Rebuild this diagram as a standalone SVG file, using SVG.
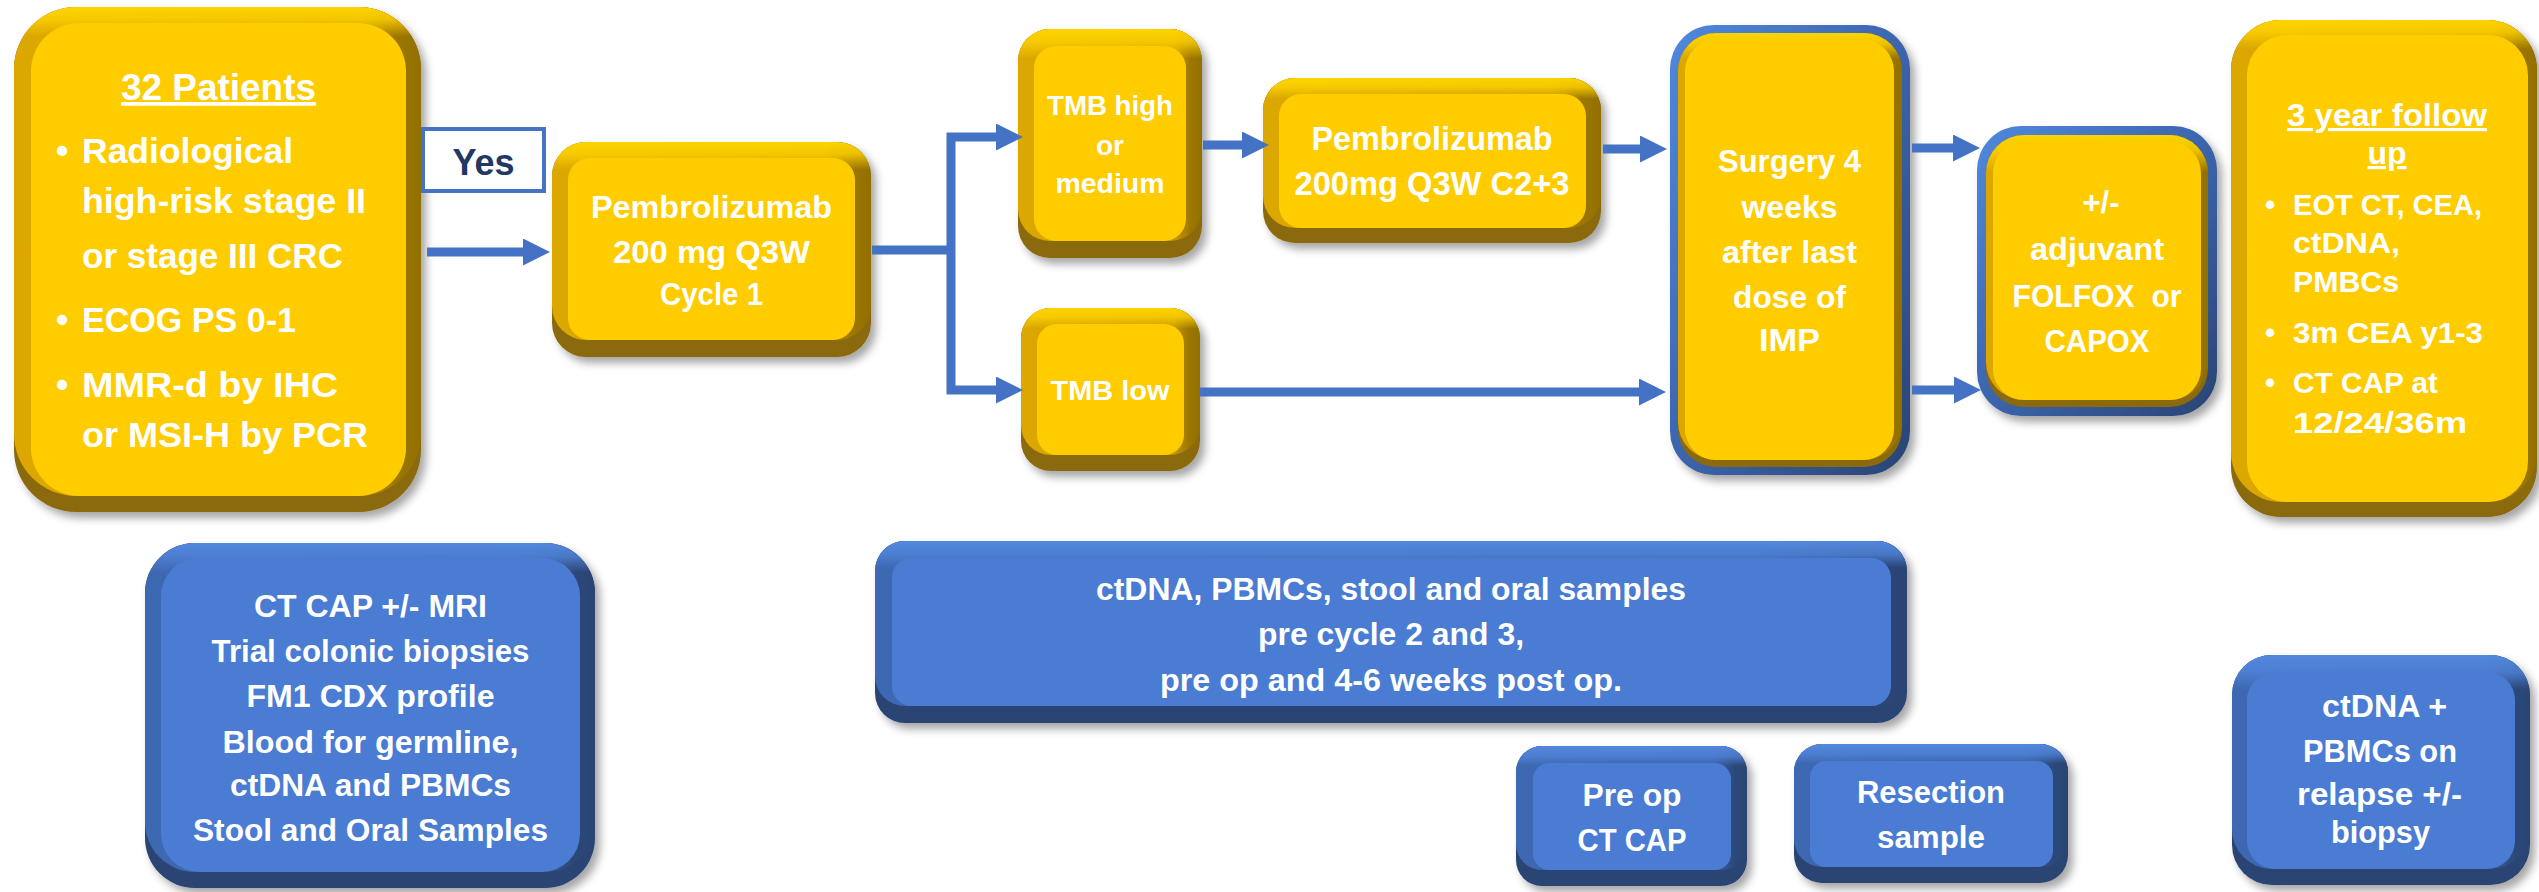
<svg xmlns="http://www.w3.org/2000/svg" width="2539" height="892" viewBox="0 0 2539 892">
  <defs>
    <filter id="shadow" x="-10%" y="-10%" width="130%" height="130%">
      <feDropShadow dx="5" dy="6" stdDeviation="4" flood-color="#000" flood-opacity="0.35"/>
    </filter>
    <!-- gold bevel -->
    <linearGradient id="goldSide" x1="0" y1="0" x2="1" y2="0">
      <stop offset="0" stop-color="#DCA800"/>
      <stop offset="0.85" stop-color="#C89700"/>
      <stop offset="0.94" stop-color="#9C7600"/>
      <stop offset="1" stop-color="#927000"/>
    </linearGradient>
    <linearGradient id="goldTopL" x1="0" y1="0" x2="0" y2="1">
      <stop offset="0" stop-color="#FFD600" stop-opacity="0.95"/>
      <stop offset="0.025" stop-color="#FFD300" stop-opacity="0.8"/>
      <stop offset="0.06" stop-color="#FFD300" stop-opacity="0"/>
    </linearGradient>
    <linearGradient id="goldTopS" x1="0" y1="0" x2="0" y2="1">
      <stop offset="0" stop-color="#FFD600" stop-opacity="0.95"/>
      <stop offset="0.06" stop-color="#FFD300" stop-opacity="0.8"/>
      <stop offset="0.14" stop-color="#FFD300" stop-opacity="0"/>
    </linearGradient>
    <!-- blue bevel -->
    <linearGradient id="blueSide" x1="0" y1="0" x2="1" y2="0">
      <stop offset="0" stop-color="#3E68B2"/>
      <stop offset="0.85" stop-color="#3A62A8"/>
      <stop offset="0.95" stop-color="#2C4879"/>
      <stop offset="1" stop-color="#2A4474"/>
    </linearGradient>
    <linearGradient id="blueTopL" x1="0" y1="0" x2="0" y2="1">
      <stop offset="0" stop-color="#558AE0" stop-opacity="0.95"/>
      <stop offset="0.04" stop-color="#5084DA" stop-opacity="0.8"/>
      <stop offset="0.09" stop-color="#5084DA" stop-opacity="0"/>
    </linearGradient>
    <linearGradient id="blueTopS" x1="0" y1="0" x2="0" y2="1">
      <stop offset="0" stop-color="#558AE0" stop-opacity="0.95"/>
      <stop offset="0.08" stop-color="#5084DA" stop-opacity="0.8"/>
      <stop offset="0.16" stop-color="#5084DA" stop-opacity="0"/>
    </linearGradient>
    <linearGradient id="blueFrame" x1="0" y1="0" x2="1" y2="1">
      <stop offset="0" stop-color="#5089DE"/>
      <stop offset="0.45" stop-color="#3E68B2"/>
      <stop offset="1" stop-color="#2A4473"/>
    </linearGradient>
    <marker id="arrow" viewBox="0 0 27 27" markerWidth="27" markerHeight="27" refX="1" refY="13.5" orient="auto" markerUnits="userSpaceOnUse">
      <path d="M0,0 L27,13.5 L0,27 z" fill="#4472C4"/>
    </marker>
    <style>
      .g-base { fill: #8B690E; }
      .g-side { fill: url(#goldSide); }
      .g-topL { fill: url(#goldTopL); }
      .g-topS { fill: url(#goldTopS); }
      .g-face { fill: #FFCC03; }
      .b-base { fill: #2B4473; }
      .b-side { fill: url(#blueSide); }
      .b-topL { fill: url(#blueTopL); }
      .b-topS { fill: url(#blueTopS); }
      .b-face { fill: #4A7CD2; }
      .b-frame { fill: url(#blueFrame); }
      .node { filter: url(#shadow); }
      text { font-family: "Liberation Sans", Arial, sans-serif; font-weight: bold; fill: #FFFFFF; }
      .c { text-anchor: middle; }
      .u { text-decoration: underline; }
      .yes { fill: #1F3864; }
      .wire { fill: none; stroke: #4472C4; stroke-width: 9; stroke-linejoin: miter; }
    </style>
  </defs>

  <!-- Eligibility -->
  <g id="n-patients">
    <g class="node">
      <rect class="g-base" x="14" y="7" width="407" height="505" rx="62"/>
      <rect class="g-side" x="14" y="7" width="407" height="489" rx="62"/>
      <rect class="g-topL" x="14" y="7" width="407" height="489" rx="62"/>
      <rect class="g-face" x="31" y="23" width="375" height="473" rx="48"/>
    </g>
    <text class="c u" x="218.5" y="100" font-size="37" textLength="195" lengthAdjust="spacingAndGlyphs">32 Patients</text>
    <g font-size="35">
      <text x="56" y="163">•</text>
      <text x="82" y="163" textLength="211" lengthAdjust="spacingAndGlyphs">Radiological</text>
      <text x="82" y="213" textLength="284" lengthAdjust="spacingAndGlyphs">high-risk stage II</text>
      <text x="82" y="268" textLength="261" lengthAdjust="spacingAndGlyphs">or stage III CRC</text>
      <text x="56" y="332">•</text>
      <text x="82" y="332" textLength="214" lengthAdjust="spacingAndGlyphs">ECOG PS 0-1</text>
      <text x="56" y="397">•</text>
      <text x="82" y="397" textLength="256" lengthAdjust="spacingAndGlyphs">MMR-d by IHC</text>
      <text x="82" y="447" textLength="286" lengthAdjust="spacingAndGlyphs">or MSI-H by PCR</text>
    </g>
  </g>

  <!-- Yes label -->
  <g id="n-yes">
    <rect x="423" y="129" width="121" height="62" fill="#FFFFFF" stroke="#4472C4" stroke-width="4"/>
    <text class="c yes" x="483.5" y="175" font-size="36">Yes</text>
  </g>

  <!-- Cycle 1 -->
  <g id="n-cycle1">
    <g class="node">
      <rect class="g-base" x="552" y="142" width="319" height="215" rx="34"/>
      <rect class="g-side" x="552" y="142" width="319" height="198" rx="34"/>
      <rect class="g-topS" x="552" y="142" width="319" height="198" rx="34"/>
      <rect class="g-face" x="568" y="158" width="287" height="182" rx="22"/>
    </g>
    <g font-size="32">
      <text class="c" x="711.5" y="218" textLength="241" lengthAdjust="spacingAndGlyphs">Pembrolizumab</text>
      <text class="c" x="711.5" y="263" textLength="197" lengthAdjust="spacingAndGlyphs">200 mg Q3W</text>
      <text class="c" x="711.5" y="305" textLength="103" lengthAdjust="spacingAndGlyphs">Cycle 1</text>
    </g>
  </g>

  <!-- TMB high -->
  <g id="n-tmb-high">
    <g class="node">
      <rect class="g-base" x="1018" y="29" width="184" height="229" rx="32"/>
      <rect class="g-side" x="1018" y="29" width="184" height="212" rx="32"/>
      <rect class="g-topS" x="1018" y="29" width="184" height="212" rx="32"/>
      <rect class="g-face" x="1034" y="46" width="152" height="195" rx="22"/>
    </g>
    <g font-size="28">
      <text class="c" x="1110" y="115" textLength="126" lengthAdjust="spacingAndGlyphs">TMB high</text>
      <text class="c" x="1110" y="155">or</text>
      <text class="c" x="1110" y="193" textLength="109" lengthAdjust="spacingAndGlyphs">medium</text>
    </g>
  </g>

  <!-- TMB low -->
  <g id="n-tmb-low">
    <g class="node">
      <rect class="g-base" x="1021" y="308" width="179" height="163" rx="30"/>
      <rect class="g-side" x="1021" y="308" width="179" height="147" rx="30"/>
      <rect class="g-topS" x="1021" y="308" width="179" height="147" rx="30"/>
      <rect class="g-face" x="1037" y="324" width="147" height="131" rx="20"/>
    </g>
    <text class="c" x="1110" y="400" font-size="28" textLength="119" lengthAdjust="spacingAndGlyphs">TMB low</text>
  </g>

  <!-- Cycles 2 and 3 -->
  <g id="n-cycle23">
    <g class="node">
      <rect class="g-base" x="1263" y="78" width="338" height="165" rx="32"/>
      <rect class="g-side" x="1263" y="78" width="338" height="150" rx="32"/>
      <rect class="g-topS" x="1263" y="78" width="338" height="150" rx="32"/>
      <rect class="g-face" x="1279" y="94" width="307" height="134" rx="22"/>
    </g>
    <g font-size="32.5">
      <text class="c" x="1432" y="150" textLength="241" lengthAdjust="spacingAndGlyphs">Pembrolizumab</text>
      <text class="c" x="1432" y="195" textLength="275" lengthAdjust="spacingAndGlyphs">200mg Q3W C2+3</text>
    </g>
  </g>

  <!-- Surgery -->
  <g id="n-surgery">
    <g class="node">
      <rect class="b-frame" x="1670" y="25" width="240" height="450" rx="44"/>
      <rect class="g-base" x="1678" y="33" width="224" height="434" rx="38"/>
      <rect class="g-side" x="1678" y="33" width="224" height="427" rx="38"/>
      <rect class="g-topL" x="1678" y="33" width="224" height="427" rx="38"/>
      <rect class="g-face" x="1685" y="40" width="209" height="420" rx="31"/>
    </g>
    <g font-size="32">
      <text class="c" x="1789.5" y="172" textLength="143" lengthAdjust="spacingAndGlyphs">Surgery 4</text>
      <text class="c" x="1789.5" y="218" textLength="96" lengthAdjust="spacingAndGlyphs">weeks</text>
      <text class="c" x="1789.5" y="263" textLength="135" lengthAdjust="spacingAndGlyphs">after last</text>
      <text class="c" x="1789.5" y="308" textLength="113" lengthAdjust="spacingAndGlyphs">dose of</text>
      <text class="c" x="1789.5" y="351" textLength="61" lengthAdjust="spacingAndGlyphs">IMP</text>
    </g>
  </g>

  <!-- Adjuvant chemotherapy -->
  <g id="n-adjuvant">
    <g class="node">
      <rect class="b-frame" x="1977" y="126" width="240" height="290" rx="44"/>
      <rect class="g-base" x="1986" y="135" width="222" height="272" rx="38"/>
      <rect class="g-side" x="1986" y="135" width="222" height="265" rx="38"/>
      <rect class="g-topS" x="1986" y="135" width="222" height="265" rx="38"/>
      <rect class="g-face" x="1993" y="142" width="208" height="258" rx="31"/>
    </g>
    <g font-size="31">
      <text class="c" x="2101" y="213">+/-</text>
      <text class="c" x="2097" y="260" textLength="134" lengthAdjust="spacingAndGlyphs">adjuvant</text>
      <text class="c" x="2097" y="307" xml:space="preserve" textLength="169" lengthAdjust="spacingAndGlyphs">FOLFOX  or</text>
      <text class="c" x="2097" y="352" textLength="105" lengthAdjust="spacingAndGlyphs">CAPOX</text>
    </g>
  </g>

  <!-- Follow-up -->
  <g id="n-followup">
    <g class="node">
      <rect class="g-base" x="2231" y="20" width="306" height="497" rx="50"/>
      <rect class="g-side" x="2231" y="20" width="306" height="482" rx="50"/>
      <rect class="g-topL" x="2231" y="20" width="306" height="482" rx="50"/>
      <rect class="g-face" x="2247" y="35" width="281" height="467" rx="40"/>
    </g>
    <g font-size="32">
      <text class="c u" x="2387" y="126" textLength="200" lengthAdjust="spacingAndGlyphs">3 year follow</text>
      <text class="c u" x="2387" y="164">up</text>
    </g>
    <g font-size="29">
      <text x="2265" y="215">•</text>
      <text x="2293" y="215" textLength="189" lengthAdjust="spacingAndGlyphs">EOT CT, CEA,</text>
      <text x="2293" y="253" textLength="107" lengthAdjust="spacingAndGlyphs">ctDNA,</text>
      <text x="2293" y="292" textLength="106" lengthAdjust="spacingAndGlyphs">PMBCs</text>
      <text x="2265" y="343">•</text>
      <text x="2293" y="343" textLength="190" lengthAdjust="spacingAndGlyphs">3m CEA y1-3</text>
      <text x="2265" y="393">•</text>
      <text x="2293" y="393" textLength="145" lengthAdjust="spacingAndGlyphs">CT CAP at</text>
      <text x="2293" y="433" textLength="174" lengthAdjust="spacingAndGlyphs">12/24/36m</text>
    </g>
  </g>

  <!-- Baseline assessments -->
  <g id="n-baseline">
    <g class="node">
      <rect class="b-base" x="145" y="543" width="450" height="345" rx="50"/>
      <rect class="b-side" x="145" y="543" width="450" height="329" rx="50"/>
      <rect class="b-topL" x="145" y="543" width="450" height="329" rx="50"/>
      <rect class="b-face" x="161" y="558" width="419" height="314" rx="38"/>
    </g>
    <g font-size="32">
      <text class="c" x="370.5" y="617" textLength="233" lengthAdjust="spacingAndGlyphs">CT CAP +/- MRI</text>
      <text class="c" x="370.5" y="662" textLength="318" lengthAdjust="spacingAndGlyphs">Trial colonic biopsies</text>
      <text class="c" x="370.5" y="707" textLength="248" lengthAdjust="spacingAndGlyphs">FM1 CDX profile</text>
      <text class="c" x="370.5" y="753" textLength="296" lengthAdjust="spacingAndGlyphs">Blood for germline,</text>
      <text class="c" x="370.5" y="796" textLength="281" lengthAdjust="spacingAndGlyphs">ctDNA and PBMCs</text>
      <text class="c" x="370.5" y="841" textLength="355" lengthAdjust="spacingAndGlyphs">Stool and Oral Samples</text>
    </g>
  </g>

  <!-- On-treatment sampling -->
  <g id="n-samples">
    <g class="node">
      <rect class="b-base" x="875" y="541" width="1032" height="182" rx="30"/>
      <rect class="b-side" x="875" y="541" width="1032" height="165" rx="30"/>
      <rect class="b-topS" x="875" y="541" width="1032" height="165" rx="30"/>
      <rect class="b-face" x="892" y="558" width="999" height="148" rx="20"/>
    </g>
    <g font-size="32">
      <text class="c" x="1391" y="600" textLength="590" lengthAdjust="spacingAndGlyphs">ctDNA, PBMCs, stool and oral samples</text>
      <text class="c" x="1391" y="645" textLength="266" lengthAdjust="spacingAndGlyphs">pre cycle 2 and 3,</text>
      <text class="c" x="1391" y="691" textLength="462" lengthAdjust="spacingAndGlyphs">pre op and 4-6 weeks post op.</text>
    </g>
  </g>

  <!-- Pre-operative imaging -->
  <g id="n-preop">
    <g class="node">
      <rect class="b-base" x="1516" y="746" width="231" height="140" rx="26"/>
      <rect class="b-side" x="1516" y="746" width="231" height="124" rx="26"/>
      <rect class="b-topS" x="1516" y="746" width="231" height="124" rx="26"/>
      <rect class="b-face" x="1533" y="763" width="198" height="107" rx="16"/>
    </g>
    <g font-size="31">
      <text class="c" x="1632" y="806" textLength="99" lengthAdjust="spacingAndGlyphs">Pre op</text>
      <text class="c" x="1632" y="851" textLength="109" lengthAdjust="spacingAndGlyphs">CT CAP</text>
    </g>
  </g>

  <!-- Resection sample -->
  <g id="n-resection">
    <g class="node">
      <rect class="b-base" x="1794" y="744" width="274" height="139" rx="28"/>
      <rect class="b-side" x="1794" y="744" width="274" height="123" rx="28"/>
      <rect class="b-topS" x="1794" y="744" width="274" height="123" rx="28"/>
      <rect class="b-face" x="1810" y="761" width="243" height="106" rx="16"/>
    </g>
    <g font-size="31">
      <text class="c" x="1931" y="803" textLength="148" lengthAdjust="spacingAndGlyphs">Resection</text>
      <text class="c" x="1931" y="848" textLength="108" lengthAdjust="spacingAndGlyphs">sample</text>
    </g>
  </g>

  <!-- Relapse sampling -->
  <g id="n-relapse">
    <g class="node">
      <rect class="b-base" x="2232" y="655" width="298" height="230" rx="40"/>
      <rect class="b-side" x="2232" y="655" width="298" height="214" rx="40"/>
      <rect class="b-topS" x="2232" y="655" width="298" height="214" rx="40"/>
      <rect class="b-face" x="2247" y="672" width="268" height="197" rx="28"/>
    </g>
    <g font-size="31">
      <text class="c" x="2384.5" y="717" textLength="125" lengthAdjust="spacingAndGlyphs">ctDNA +</text>
      <text class="c" x="2380" y="762" textLength="154" lengthAdjust="spacingAndGlyphs">PBMCs on</text>
      <text class="c" x="2379.5" y="805" textLength="165" lengthAdjust="spacingAndGlyphs">relapse +/-</text>
      <text class="c" x="2380.5" y="843" textLength="99" lengthAdjust="spacingAndGlyphs">biopsy</text>
    </g>
  </g>

  <!-- Flow connectors -->
  <g id="connectors">
    <path class="wire" d="M427,252 H524" marker-end="url(#arrow)"/>
    <path class="wire" d="M872,250 H951"/>
    <path class="wire" d="M951,250 V137 H997" marker-end="url(#arrow)"/>
    <path class="wire" d="M951,250 V390 H997" marker-end="url(#arrow)"/>
    <path class="wire" d="M1203,145 H1243" marker-end="url(#arrow)"/>
    <path class="wire" d="M1603,149 H1641" marker-end="url(#arrow)"/>
    <path class="wire" d="M1200,392 H1640" marker-end="url(#arrow)"/>
    <path class="wire" d="M1912,148 H1954" marker-end="url(#arrow)"/>
    <path class="wire" d="M1912,390 H1955" marker-end="url(#arrow)"/>
  </g>
</svg>
